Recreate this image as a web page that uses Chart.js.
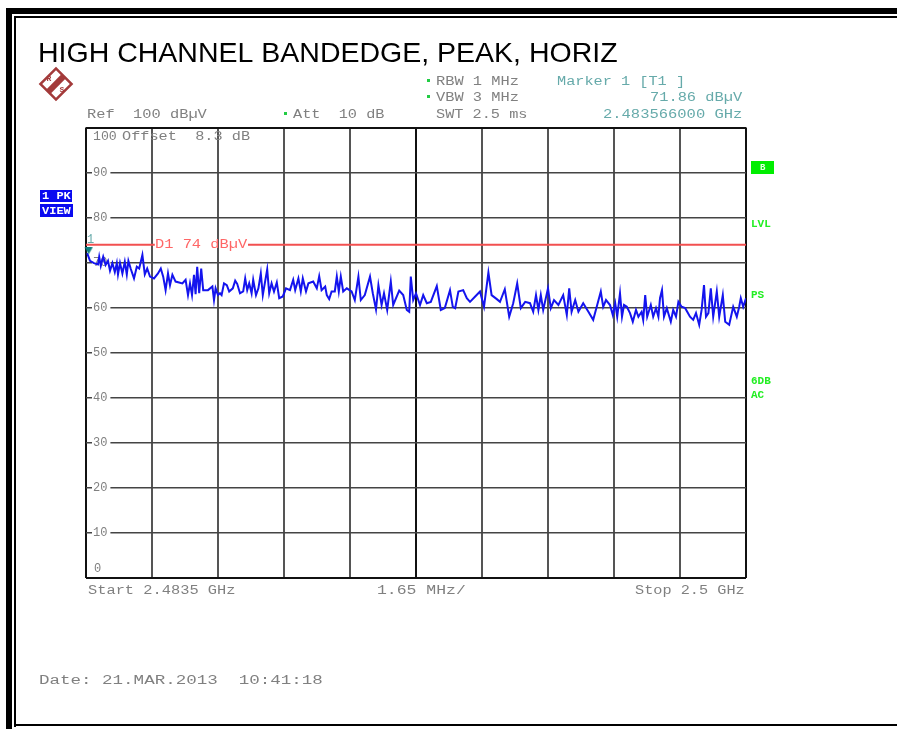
<!DOCTYPE html>
<html>
<head>
<meta charset="utf-8">
<title>High channel bandedge</title>
<script src="https://cdn.jsdelivr.net/npm/chart.js@4"></script>
<style>
  html, body { margin: 0; padding: 0; background: #fff; overflow: hidden; }
  canvas { display: block; filter: blur(0.45px); }
</style>
</head>
<body>
<canvas id="chart" width="897" height="729"></canvas>
<script>
// Trace: offset from the start frequency (MHz) and level (dBuV)
const traceOffsetMHz = [
  0.03, 0.10, 0.20, 0.30, 0.33, 0.37, 0.43, 0.49, 0.55, 0.60,
  0.66, 0.72, 0.77, 0.80, 0.85, 0.91, 0.97, 1.02, 1.06, 1.12,
  1.20, 1.27, 1.33, 1.41, 1.47, 1.53, 1.60, 1.70, 1.80, 1.87,
  1.93, 1.99, 2.05, 2.10, 2.16, 2.24, 2.41, 2.49, 2.55, 2.60,
  2.65, 2.70, 2.74, 2.78, 2.83, 2.88, 2.93, 3.05, 3.16, 3.20,
  3.24, 3.30, 3.35, 3.39, 3.45, 3.52, 3.58, 3.67, 3.73, 3.78,
  3.85, 3.93, 3.98, 4.03, 4.08, 4.14, 4.18, 4.25, 4.31, 4.37,
  4.42, 4.47, 4.53, 4.58, 4.64, 4.70, 4.77, 4.83, 4.92, 5.00,
  5.10, 5.18, 5.23, 5.31, 5.37, 5.42, 5.50, 5.56, 5.68, 5.77,
  5.83, 5.89, 5.98, 6.02, 6.08, 6.14, 6.22, 6.27, 6.32, 6.37,
  6.43, 6.52, 6.64, 6.72, 6.81, 6.87, 6.97, 7.10, 7.17, 7.25,
  7.31, 7.39, 7.45, 7.53, 7.62, 7.68, 7.83, 7.93, 8.02, 8.08,
  8.12, 8.18, 8.25, 8.35, 8.43, 8.52, 8.62, 8.77, 8.87, 8.97,
  9.10, 9.17, 9.23, 9.31, 9.43, 9.52, 9.60, 9.73, 9.85, 9.95,
  10.06, 10.14, 10.27, 10.35, 10.47, 10.58, 10.68, 10.78, 10.87, 10.98,
  11.10, 11.18, 11.25, 11.31, 11.37, 11.43, 11.55, 11.62, 11.70, 11.81,
  11.93, 12.02, 12.08, 12.14, 12.23, 12.31, 12.43, 12.56, 12.68, 12.78,
  12.87, 12.93, 13.00, 13.10, 13.17, 13.23, 13.28, 13.35, 13.40, 13.45,
  13.52, 13.60, 13.67, 13.75, 13.81, 13.89, 13.93, 13.98, 14.03, 14.12,
  14.18, 14.25, 14.31, 14.35, 14.40, 14.45, 14.52, 14.62, 14.68, 14.75,
  14.81, 14.89, 14.98, 15.10, 15.18, 15.25, 15.33, 15.39, 15.45, 15.50,
  15.56, 15.62, 15.68, 15.77, 15.83, 15.92, 15.98, 16.08, 16.18, 16.27,
  16.33, 16.37, 16.43, 16.50
];
const traceLevel = [
  72.1, 70.4, 69.9, 69.6, 71.3, 69.3, 71.3, 69.5, 70.4, 68.2,
  69.9, 67.9, 69.9, 67.4, 69.9, 67.6, 70.2, 67.4, 70.4, 68.6,
  66.5, 69.1, 68.7, 71.7, 67.4, 68.7, 66.9, 66.5, 67.6, 68.7,
  66.9, 63.9, 67.6, 65.0, 67.3, 65.8, 65.4, 66.2, 62.8, 65.4,
  62.8, 67.3, 63.0, 69.1, 63.2, 68.7, 63.9, 63.9, 64.7, 61.7,
  64.3, 62.8, 63.2, 62.8, 65.4, 65.0, 63.6, 64.3, 66.0, 65.3,
  63.2, 63.6, 66.5, 63.9, 65.4, 63.2, 66.2, 62.8, 64.3, 67.6,
  62.8, 65.4, 68.5, 63.2, 65.4, 63.6, 65.6, 62.1, 62.5, 64.3,
  63.9, 66.2, 63.9, 66.5, 63.6, 66.5, 63.6, 65.4, 65.8, 64.3,
  67.0, 63.9, 64.7, 62.8, 61.9, 63.6, 63.6, 66.9, 63.6, 66.9,
  63.6, 64.3, 63.6, 61.7, 66.9, 61.7, 62.8, 66.9, 63.2, 59.6,
  65.0, 60.6, 63.2, 59.5, 65.8, 60.6, 63.8, 62.8, 59.5, 59.1,
  66.9, 61.7, 63.2, 60.6, 62.8, 61.0, 61.3, 64.8, 59.5, 59.9,
  63.9, 60.2, 59.9, 63.6, 63.9, 62.1, 61.3, 62.5, 63.6, 60.2,
  67.8, 62.8, 61.9, 61.3, 64.1, 58.0, 61.0, 65.4, 59.9, 61.3,
  61.0, 59.1, 62.8, 59.5, 62.8, 59.5, 64.3, 59.9, 61.7, 60.6,
  62.8, 58.4, 64.3, 59.1, 61.7, 59.1, 61.0, 59.1, 57.3, 60.6,
  63.6, 60.2, 61.7, 60.6, 58.4, 61.0, 58.0, 63.2, 58.0, 60.6,
  60.2, 58.8, 56.9, 59.5, 58.0, 59.1, 57.3, 62.8, 58.0, 60.6,
  58.0, 59.9, 58.0, 62.1, 63.9, 58.0, 59.9, 56.9, 59.5, 58.0,
  61.3, 60.2, 59.9, 58.0, 57.3, 58.8, 56.2, 59.5, 65.0, 58.0,
  58.8, 64.3, 58.0, 63.6, 58.0, 62.8, 56.9, 56.2, 60.2, 58.0,
  60.2, 62.1, 60.2, 62.1
];
// Display line D1, broken where its label sits
const limitOffsetMHz = [0, 1.72, 1.72, 4.05, 16.5];
const limitLevel = [74, 74, null, 74, 74];
const markerOffsetMHz = [0.066];
const markerLevel = [71.86];
const yTickValues = [90, 80, 70, 60, 50, 40, 30, 20, 10];

const GREY = '#808080';
const TEAL = '#66aaaa';
const GREEN = '#22ee22';
const MONO = '"Liberation Mono", monospace';

// Annotation texts of the analyser screen: text, left x, middle y, colour, horizontal stretch
const screenLabels = [
  ['Ref  100 dBµV', 87, 115, GREY, 1.28],
  ['Att  10 dB', 293, 115, GREY, 1.27],
  ['RBW 1 MHz', 436, 82, GREY, 1.28],
  ['VBW 3 MHz', 436, 98, GREY, 1.28],
  ['SWT 2.5 ms', 436, 115, GREY, 1.27],
  ['Marker 1 [T1 ]', 557, 82, TEAL, 1.27],
  ['71.86 dBµV', 650, 98, TEAL, 1.28],
  ['2.483566000 GHz', 603, 115, TEAL, 1.29],
  ['100', 93, 137, GREY, 1.1],
  ['Offset  8.3 dB', 122, 137, GREY, 1.27],
  ['0', 94, 569, GREY, 1],
  ['1', 87, 240, TEAL, 1],
  ['D1 74 dBµV', 155, 245, '#ff6666', 1.28],
  ['Start 2.4835 GHz', 88, 591, GREY, 1.28],
  ['1.65 MHz/', 377, 591, GREY, 1.37],
  ['Stop 2.5 GHz', 635, 591, GREY, 1.27],
  ['Date: 21.MAR.2013  10:41:18', 39, 681, GREY, 1.46]
];
const softLabels = [
  ['LVL', 751, 224],
  ['PS', 751, 295],
  ['6DB', 751, 381],
  ['AC', 751, 395]
];
const starMarks = [[428, 80], [428, 96], [285, 113]];

function markerIcon() {
  // triangle with its tip on the centre of the image, so it points at the marker level
  const c = document.createElement('canvas');
  c.width = 14; c.height = 14;
  const g = c.getContext('2d');
  g.fillStyle = '#0f7f7f';
  g.beginPath();
  g.moveTo(3, 0); g.lineTo(11, 0); g.lineTo(7, 7);
  g.closePath();
  g.fill();
  return c;
}

function stretchedText(ctx, text, x, y, color, sx, font) {
  ctx.save();
  ctx.translate(x, y);
  ctx.scale(sx, 1);
  ctx.font = font;
  ctx.fillStyle = color;
  ctx.textAlign = 'left';
  ctx.textBaseline = 'middle';
  ctx.fillText(text, 0, 0);
  ctx.restore();
}

function drawFrame(ctx) {
  ctx.fillStyle = '#000';
  ctx.fillRect(6, 8, 891, 6);
  ctx.fillRect(14, 16, 883, 2);
  ctx.fillRect(6, 8, 6, 721);
  ctx.fillRect(14, 16, 2, 711);
  ctx.fillRect(14, 724, 883, 2);
}

function drawLogo(ctx) {
  ctx.save();
  ctx.translate(56, 84);
  ctx.rotate(Math.PI / 4);
  ctx.strokeStyle = '#a33a3a';
  ctx.fillStyle = '#a33a3a';
  ctx.lineWidth = 2.5;
  ctx.strokeRect(-11, -11, 22, 22);
  ctx.fillRect(-3, -11, 6, 22);
  ctx.restore();
  ctx.font = 'bold 8px ' + MONO;
  ctx.fillStyle = '#a33a3a';
  ctx.textAlign = 'center';
  ctx.textBaseline = 'middle';
  ctx.fillText('R', 49, 79);
  ctx.fillText('S', 62, 90);
}

function drawSideBoxes(ctx) {
  ctx.fillStyle = '#0a0af0';
  ctx.fillRect(40, 190, 32, 12);
  ctx.fillRect(40, 204, 33, 13);
  ctx.fillStyle = '#00ee00';
  ctx.fillRect(751, 161, 23, 13);
  stretchedText(ctx, '1 PK', 42, 196, '#fff', 1.2, 'bold 10px ' + MONO);
  stretchedText(ctx, 'VIEW', 42, 211, '#fff', 1.2, 'bold 10px ' + MONO);
  stretchedText(ctx, 'B', 760, 168, '#dfffdf', 1, 'bold 9px ' + MONO);
}

const screenPlugin = {
  id: 'screen',
  beforeDraw(chart) {
    const ctx = chart.ctx;
    ctx.save();
    ctx.fillStyle = '#fff';
    ctx.fillRect(0, 0, chart.width, chart.height);
    drawFrame(ctx);
    ctx.restore();
  },
  afterDraw(chart) {
    const ctx = chart.ctx;
    ctx.save();
    stretchedText(ctx, 'HIGH CHANNEL BANDEDGE, PEAK, HORIZ', 38, 54, '#000', 1, '28.5px "Liberation Sans", Arial, sans-serif');
    drawLogo(ctx);
    drawSideBoxes(ctx);
    screenLabels.forEach(([text, x, y, color, sx]) => {
      stretchedText(ctx, text, x, y, color, sx, '12px ' + MONO);
    });
    softLabels.forEach(([text, x, y]) => {
      stretchedText(ctx, text, x, y, GREEN, 1.1, 'bold 10px ' + MONO);
    });
    starMarks.forEach(([x, y]) => {
      ctx.fillStyle = '#22cc44';
      ctx.fillRect(x - 1, y - 1, 3, 3);
    });
    ctx.restore();
  }
};

new Chart(document.getElementById('chart'), {
  type: 'line',
  data: {
    datasets: [
      {
        label: 'Marker 1',
        data: markerOffsetMHz.map((x, i) => ({ x, y: markerLevel[i] })),
        showLine: false,
        pointStyle: markerIcon(),
        pointRadius: 7,
        clip: false
      },
      {
        label: 'D1',
        data: limitOffsetMHz.map((x, i) => ({ x, y: limitLevel[i] })),
        borderColor: '#f25050',
        borderWidth: 2,
        pointRadius: 0,
        spanGaps: false
      },
      {
        label: '1 PK VIEW',
        data: traceOffsetMHz.map((x, i) => ({ x, y: traceLevel[i] })),
        borderColor: '#1414ee',
        borderWidth: 2,
        pointRadius: 0,
        tension: 0
      }
    ]
  },
  options: {
    responsive: false,
    animation: false,
    parsing: false,
    layout: { padding: { left: 86, top: 127.5, right: 151, bottom: 151 } },
    plugins: { legend: { display: false }, tooltip: { enabled: false } },
    scales: {
      x: {
        type: 'linear',
        min: 0,
        max: 16.5,
        border: { display: false },
        afterFit: (scale) => { scale.height = 0; },
        ticks: { display: false, count: 11 },
        grid: {
          drawTicks: false,
          color: (c) => (c.index === 0 || c.index === 5 || c.index === 10) ? '#111' : '#555',
          lineWidth: 2
        }
      },
      y: {
        type: 'linear',
        min: 0,
        max: 100,
        border: { display: false },
        afterFit: (scale) => { scale.width = 0; },
        grid: {
          drawTicks: false,
          color: (c) => (c.tick.value === 0 || c.tick.value === 100) ? '#111' : '#444',
          lineWidth: (c) => (c.tick.value === 0 || c.tick.value === 100) ? 2 : 1.5
        },
        ticks: {
          stepSize: 10,
          mirror: true,
          padding: 7,
          color: GREY,
          font: { family: MONO, size: 12 },
          callback: (v) => yTickValues.includes(v) ? String(v) : '',
          showLabelBackdrop: (c) => yTickValues.includes(c.tick.value),
          backdropColor: '#fff',
          backdropPadding: { top: 0, bottom: 0, left: 1, right: 3 }
        }
      }
    }
  },
  plugins: [screenPlugin]
});
</script>
</body>
</html>
